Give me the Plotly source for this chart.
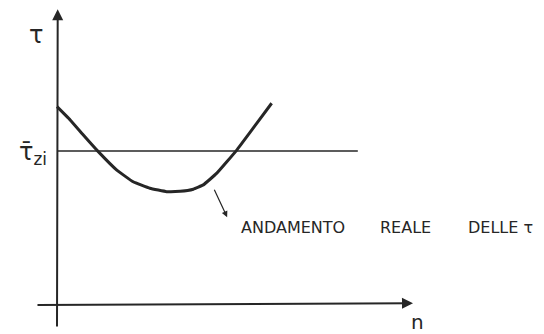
import plotly.graph_objects as go

# Measured trend of tau against n (hand-traced sample points)
n_curve = [0.0, 0.37, 0.74, 1.16, 1.68, 2.14, 2.61, 3.08, 3.46, 3.83, 4.11, 4.49, 5.05, 5.51, 6.03]
tau_curve = [6.44, 6.01, 5.52, 4.98, 4.38, 4.00, 3.79, 3.68, 3.69, 3.76, 3.90, 4.28, 5.03, 5.74, 6.55]

# Reference level tau_zi
tau_zi = 5.0
n_ref = [0.0, 8.45]

# Axis extents
n_axis = [-0.59, 10.0]
tau_axis = [-0.75, 9.6]

# Pointer from the curve to its caption
pointer_tail = (4.4, 3.79)
pointer_head = (4.78, 2.85)

ink = "#262626"
hand = "DejaVu Sans"

fig = go.Figure()

fig.add_trace(go.Scatter(
    x=n_ref, y=[tau_zi, tau_zi], mode="lines",
    line=dict(color=ink, width=1.4), hoverinfo="skip", showlegend=False))

fig.add_trace(go.Scatter(
    x=n_curve, y=tau_curve, mode="lines",
    line=dict(color=ink, width=3, shape="spline", smoothing=0.3),
    hoverinfo="skip", showlegend=False))

annotations = [
    # horizontal axis with arrow
    dict(x=n_axis[1], y=0.06, ax=n_axis[0], ay=0.0, xref="x", yref="y",
         axref="x", ayref="y", text="", showarrow=True, arrowhead=2,
         arrowsize=1.1, arrowwidth=2, arrowcolor=ink),
    # vertical axis with arrow
    dict(x=0.02, y=tau_axis[1], ax=0.0, ay=tau_axis[0], xref="x", yref="y",
         axref="x", ayref="y", text="", showarrow=True, arrowhead=2,
         arrowsize=1.1, arrowwidth=2, arrowcolor=ink),
    # pointer arrow
    dict(x=pointer_head[0], y=pointer_head[1], ax=pointer_tail[0], ay=pointer_tail[1],
         xref="x", yref="y", axref="x", ayref="y", text="", showarrow=True,
         arrowhead=2, arrowsize=1, arrowwidth=1.2, arrowcolor=ink),
    dict(x=0.0, y=tau_axis[1], xref="x", yref="y", text="τ", showarrow=False,
         xshift=-21, yshift=-26, font=dict(family=hand, size=24, color=ink)),
    dict(x=0.0, y=tau_zi, xref="x", yref="y", text="τ̄<sub>zi</sub>", showarrow=False,
         xanchor="right", xshift=-8, yshift=-2, font=dict(family=hand, size=24, color=ink)),
    dict(x=n_axis[1], y=0.0, xref="x", yref="y", text="n", showarrow=False,
         xshift=5, yshift=-17, font=dict(family=hand, size=20, color=ink)),
]

caption_words = ["ANDAMENTO", "REALE", "DELLE τ"]
caption_n = [6.63, 9.8, 12.45]
caption_tau = 2.5
for word, xn in zip(caption_words, caption_n):
    annotations.append(dict(x=xn, y=caption_tau, xref="x", yref="y", text=word,
                            showarrow=False, font=dict(family=hand, size=16, color=ink)))

fig.update_layout(
    width=544, height=334,
    margin=dict(l=0, r=0, t=0, b=0),
    paper_bgcolor="white", plot_bgcolor="white",
    xaxis=dict(range=[-1.601, 13.68], visible=False, fixedrange=True),
    yaxis=dict(range=[-0.942, 9.903], visible=False, fixedrange=True),
    annotations=annotations,
    showlegend=False,
)

fig.write_html("out.html")
